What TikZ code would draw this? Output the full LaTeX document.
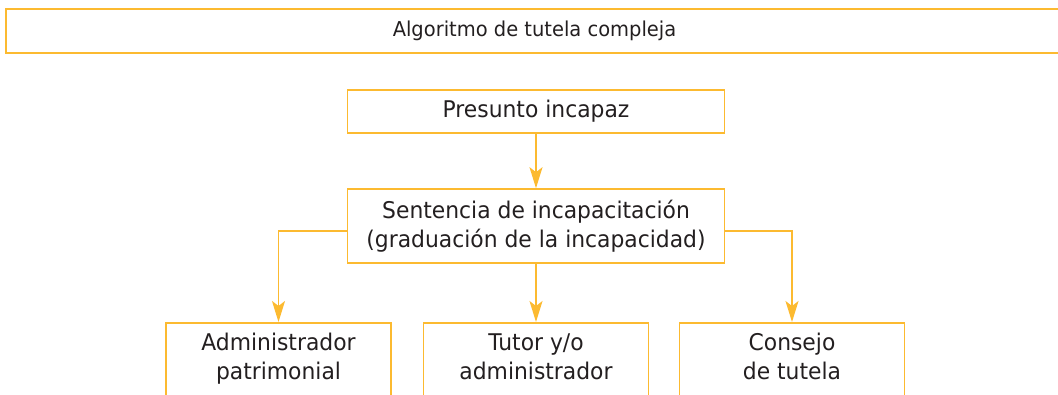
\documentclass[tikz,border=0pt]{standalone}
\usepackage{fontspec}
\setmainfont{DejaVu Sans}[FakeStretch=0.95]
\usepackage{tikz}
\usetikzlibrary{arrows.meta}
\definecolor{amber}{RGB}{252,186,48}
\definecolor{ink}{RGB}{35,31,32}
\tikzset{
  box/.style={draw=amber,line width=1.6pt,rectangle,inner sep=0pt,text=ink,
    align=center,font=\fontsize{23}{29}\selectfont},
  link/.style={draw=amber,line width=1.6pt,-{Stealth[length=21pt,width=13pt,inset=5pt]}}
}

\begin{document}
\begin{tikzpicture}[x=1pt,y=-1pt]
    \useasboundingbox (0,0) rectangle (1058,394);

    \node [box, minimum width=1057, minimum height=44, font=\fontsize{20.5}{25}\selectfont] (title) at (534.5,31) {Algoritmo de tutela compleja};

    \node [box, minimum width=377, minimum height=43] (incapaz) at (536,111.5) {Presunto incapaz};
    \node [box, minimum width=377, minimum height=74] (sentencia) at (536,226) {Sentencia de incapacitación\\(graduación de la incapacidad)};

    % bottom row runs off the page
    \node [box, minimum width=225, minimum height=100, anchor=north] (admin) at (278.5,322) {};
    \node [box, minimum width=225, minimum height=100, anchor=north] (tutor) at (536,322) {};
    \node [box, minimum width=225, minimum height=100, anchor=north] (consejo) at (792,322) {};
    \node [box, draw=none, anchor=north] at ([yshift=-10.5]admin.north) {Administrador\\patrimonial};
    \node [box, draw=none, anchor=north] at ([yshift=-10.5]tutor.north) {Tutor y/o\\administrador};
    \node [box, draw=none, anchor=north] at ([yshift=-10.5]consejo.north) {Consejo\\de tutela};

    \draw [link] (incapaz) -- (sentencia);
    \draw [link] (sentencia) -- (tutor);
    \draw [link] (sentencia.west |- 0,231) -| (admin.north);
    \draw [link] (sentencia.east |- 0,231) -| (consejo.north);
\end{tikzpicture}
\end{document}
